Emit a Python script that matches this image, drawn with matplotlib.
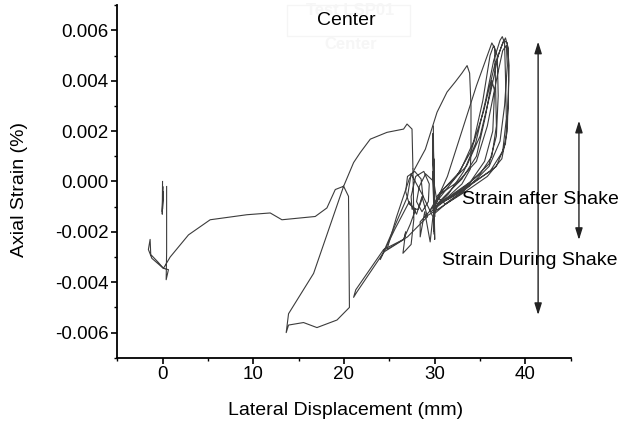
import matplotlib
matplotlib.use("Agg")
import matplotlib.pyplot as plt
from matplotlib.patches import Rectangle

plt.rcParams['font.family'] = ['Liberation Sans', 'DejaVu Sans']
plt.rcParams['axes.unicode_minus'] = False

# ---- data (lateral displacement mm, axial strain %) ----
# start: small jitter near zero
start_x = [0.0, -0.03, 0.03, 0.0, 0.05, -0.02, 0.02]
start_y = [0.0, -0.0013, -0.0002, -0.0011, -0.0004, -0.0012, -0.0005]

# first excursion: left hook, plateau, drop and climb to 27 mm
path1_x = [0.45, 0.45, 0.4, 0.65, 0.1, -1.18, -1.56, -1.37, -1.3, -0.5, 0.1,
           0.84, 2.86, 5.25, 9.3, 11.87, 13.16, 16.83, 18.12, 19.04, 19.96,
           20.5, 20.6, 19.23, 17.02, 15.54, 13.89, 13.63, 13.89, 16.65,
           19.96, 21.06, 21.8, 22.9, 24.74, 26.57, 26.95, 27.5, 27.6]
path1_y = [-0.0002, -0.0028, -0.0039, -0.0035, -0.00345, -0.00305, -0.0027,
           -0.0023, -0.0029, -0.0032, -0.00345, -0.0030, -0.00212, -0.00152,
           -0.00132, -0.00125, -0.00152, -0.00139, -0.00105, -0.00032,
           -0.00019, -0.00059, -0.0050, -0.0055, -0.0058, -0.0056, -0.0057,
           -0.0060, -0.00525, -0.00365, -0.00019, 0.00075, 0.00115, 0.00168,
           0.00195, 0.00208, 0.00228, 0.00208, 0.0005]

# cluster of small loops and the dip back to 21 mm
cluster_x = [27.6, 27.7, 27.4, 26.5, 26.8, 26.6, 24.4, 21.4, 21.06, 21.3,
             24.37, 26.57, 27.3, 27.9, 27.2, 26.8, 27.0, 27.8, 28.5, 28.7,
             28.2, 27.5, 27.4, 27.9, 28.8, 29.4, 29.3, 28.6, 28.0, 28.3, 29.0,
             29.9, 30.2, 29.4, 28.4, 28.4, 28.9, 29.5, 29.8, 28.6, 27.4, 27.0,
             24.0, 25.6, 27.2, 28.0, 28.6, 29.2]
cluster_y = [0.0005, -0.0015, -0.0025, -0.00285, -0.0020, -0.0023, -0.0028,
             -0.0044, -0.0046, -0.0043, -0.0027, -0.0023, -0.0017, -0.0011,
             -0.0009, -0.0004, 0.0002, 0.0004, 0.0001, -0.0006, -0.0011,
             -0.0011, -0.0006, 0.0002, 0.0004, -0.0001, -0.0008, -0.0012,
             -0.0008, -0.0002, 0.0003, 0.0000, -0.0007, -0.0012, -0.0016,
             -0.0022, -0.0012, -0.0024, -0.0014, -0.0005, 0.0003, -0.0006,
             -0.0031, -0.0019, -0.0008, -0.0013, -0.0006, -0.0014]

# dense vertical oscillation near 30 mm
jitter_x = [29.85, 29.95, 29.8, 30.0, 29.85, 29.95, 29.8, 30.0, 29.9, 29.95,
            29.85, 30.0, 29.9, 29.95, 29.8, 29.9, 29.85, 29.95]
jitter_y = [0.0022, -0.0020, 0.0016, -0.0023, 0.0012, -0.0017, 0.0019,
            -0.0014, 0.0009, -0.0021, 0.0014, -0.0010, 0.0006, -0.0016,
            0.0004, -0.0012, 0.0010, -0.0008]

# the single peak near 34 mm
peak_x = [29.2, 27.0, 24.74, 25.8, 27.2, 28.97, 30.26, 31.36, 32.28, 33.0,
          33.57, 33.85, 34.0, 34.0, 33.93, 33.0, 31.5, 30.3]
peak_y = [-0.0014, -0.0022, -0.0027, -0.0014, 0.0001, 0.00128, 0.00275,
          0.00355, 0.00396, 0.0043, 0.0046, 0.0043, 0.0030, 0.00128, 0.0005,
          -0.0001, -0.0006, -0.0009]

# repeated large loops up to 38 mm
loops_x = [29.9, 31.4, 33.0, 34.6, 36.0, 36.3, 36.6, 36.7, 36.8, 36.3, 35.0, 33.0, 31.0,
           29.6, 31.5, 33.2, 34.5, 35.6, 36.5, 37.2, 37.45, 37.7, 37.8, 37.9, 37.5, 36.1, 33.5, 31.5,
           30.0, 32.4, 34.0, 35.4, 36.6, 37.4, 37.8, 38.1, 38.15, 38.0, 37.4, 35.8, 33.4, 31.2,
           30.2, 32.8, 34.3, 35.3, 36.1, 36.5, 36.9, 37.0, 36.8, 36.0, 34.0, 32.0, 29.6,
           31.0, 33.5, 35.0, 36.2, 37.0, 37.6, 38.0, 38.2, 38.1, 37.8, 36.8, 34.5, 32.0, 30.0,
           30.6, 32.6, 34.6, 35.8, 36.9, 37.5, 37.9, 38.0, 37.7, 37.2, 36.0, 33.8, 31.5, 29.9,
           30.5, 33.0, 34.6, 35.6, 36.3, 36.6, 36.4, 35.5, 33.2, 30.8, 29.0]
loops_y = [-0.0010, 0.0002, 0.0020, 0.0038, 0.0052, 0.0055, 0.0053, 0.0040, 0.0022, 0.0010, 0.0003, -0.0003, -0.0008,
           -0.0012, -0.0005, 0.0004, 0.0015, 0.0032, 0.0048, 0.0056, 0.00575, 0.0055, 0.0042, 0.0025, 0.0012, 0.0004, -0.0002, -0.0007,
           -0.0009, 0.0002, 0.0012, 0.0028, 0.0046, 0.0054, 0.0057, 0.0053, 0.0040, 0.0020, 0.0009, 0.0002, -0.0004, -0.0009,
           -0.0006, 0.0004, 0.0016, 0.0032, 0.0050, 0.0054, 0.0050, 0.0034, 0.0018, 0.0007, 0.0000, -0.0005, -0.0011,
           -0.0003, 0.0006, 0.0018, 0.0036, 0.0050, 0.0056, 0.0055, 0.0046, 0.0030, 0.0015, 0.0006, 0.0000, -0.0006, -0.0010,
           -0.0005, 0.0000, 0.0008, 0.0022, 0.0042, 0.0052, 0.0054, 0.0046, 0.0030, 0.0016, 0.0006, -0.0002, -0.0008, -0.0013,
           -0.0008, 0.0001, 0.0010, 0.0026, 0.0040, 0.0036, 0.0020, 0.0008, -0.0004, -0.0010, -0.0014]

# double arrows (x, bottom, top)
arrow_during = [41.4, -0.0053, 0.00555]
arrow_after = [45.9, -0.00232, 0.00241]

line_col = '#3c3c3c'

fig = plt.figure(figsize=(6.3, 4.28), dpi=100)
ax = fig.add_axes([0.186, 0.164, 0.720, 0.824])

for xs, ys in [(start_x, start_y), (path1_x, path1_y), (cluster_x, cluster_y),
               (jitter_x, jitter_y), (peak_x, peak_y), (loops_x, loops_y)]:
    ax.plot(xs, ys, color=line_col, lw=0.8)

for a in [arrow_during, arrow_after]:
    ax.annotate('', xy=(a[0], a[2]), xytext=(a[0], a[1]),
                arrowprops=dict(arrowstyle='<|-|>,head_length=0.7,head_width=0.22',
                                mutation_scale=10, color='#222222', lw=1.0,
                                shrinkA=0, shrinkB=0),
                annotation_clip=False)

ax.text(33.05, -0.00072, 'Strain after Shake', fontsize=14, ha='left', va='center')
ax.text(30.8, -0.00312, 'Strain During Shake', fontsize=14, ha='left', va='center')

ax.set_xlim(-5, 45)
ax.set_ylim(-0.007, 0.007)
ax.set_xticks([0, 10, 20, 30, 40])
ax.set_xticks([-5, 5, 15, 25, 35, 45], minor=True)
ax.set_yticks([-0.006, -0.004, -0.002, 0.0, 0.002, 0.004, 0.006])
ax.set_yticks([-0.007, -0.005, -0.003, -0.001, 0.001, 0.003, 0.005, 0.007], minor=True)
ax.set_yticklabels(['%.3f' % v for v in [-0.006, -0.004, -0.002, 0.0, 0.002, 0.004, 0.006]])

for s in ['top', 'right']:
    ax.spines[s].set_visible(False)
for s in ['left', 'bottom']:
    ax.spines[s].set_linewidth(1.3)
ax.tick_params(which='major', direction='out', length=4, width=1.2, labelsize=13.5, pad=2)
ax.tick_params(which='minor', direction='out', length=2.5, width=1.0)

ax.set_xlabel('Lateral Displacement (mm)', fontsize=14)
ax.set_ylabel('Axial Strain (%)', fontsize=14)
ax.xaxis.set_label_coords(0.504, -0.125)
ax.yaxis.set_label_coords(-0.196, 0.476)

# faint ghost title box behind "Center"
fig.patches.append(Rectangle((0.4556, 0.916), 0.195, 0.0724, transform=fig.transFigure,
                             fill=False, edgecolor='#f5f5f5', lw=1.0))
fig.text(0.556, 0.975, 'Test LSP01', fontsize=12, color='#f6f6f6', ha='center', va='center',
         weight='bold')
fig.text(0.556, 0.897, 'Center', fontsize=12, color='#f6f6f6', ha='center', va='center',
         weight='bold')
fig.text(0.549, 0.951, 'Center', fontsize=14, ha='center', va='center')

fig.savefig('out.png', dpi=100)
